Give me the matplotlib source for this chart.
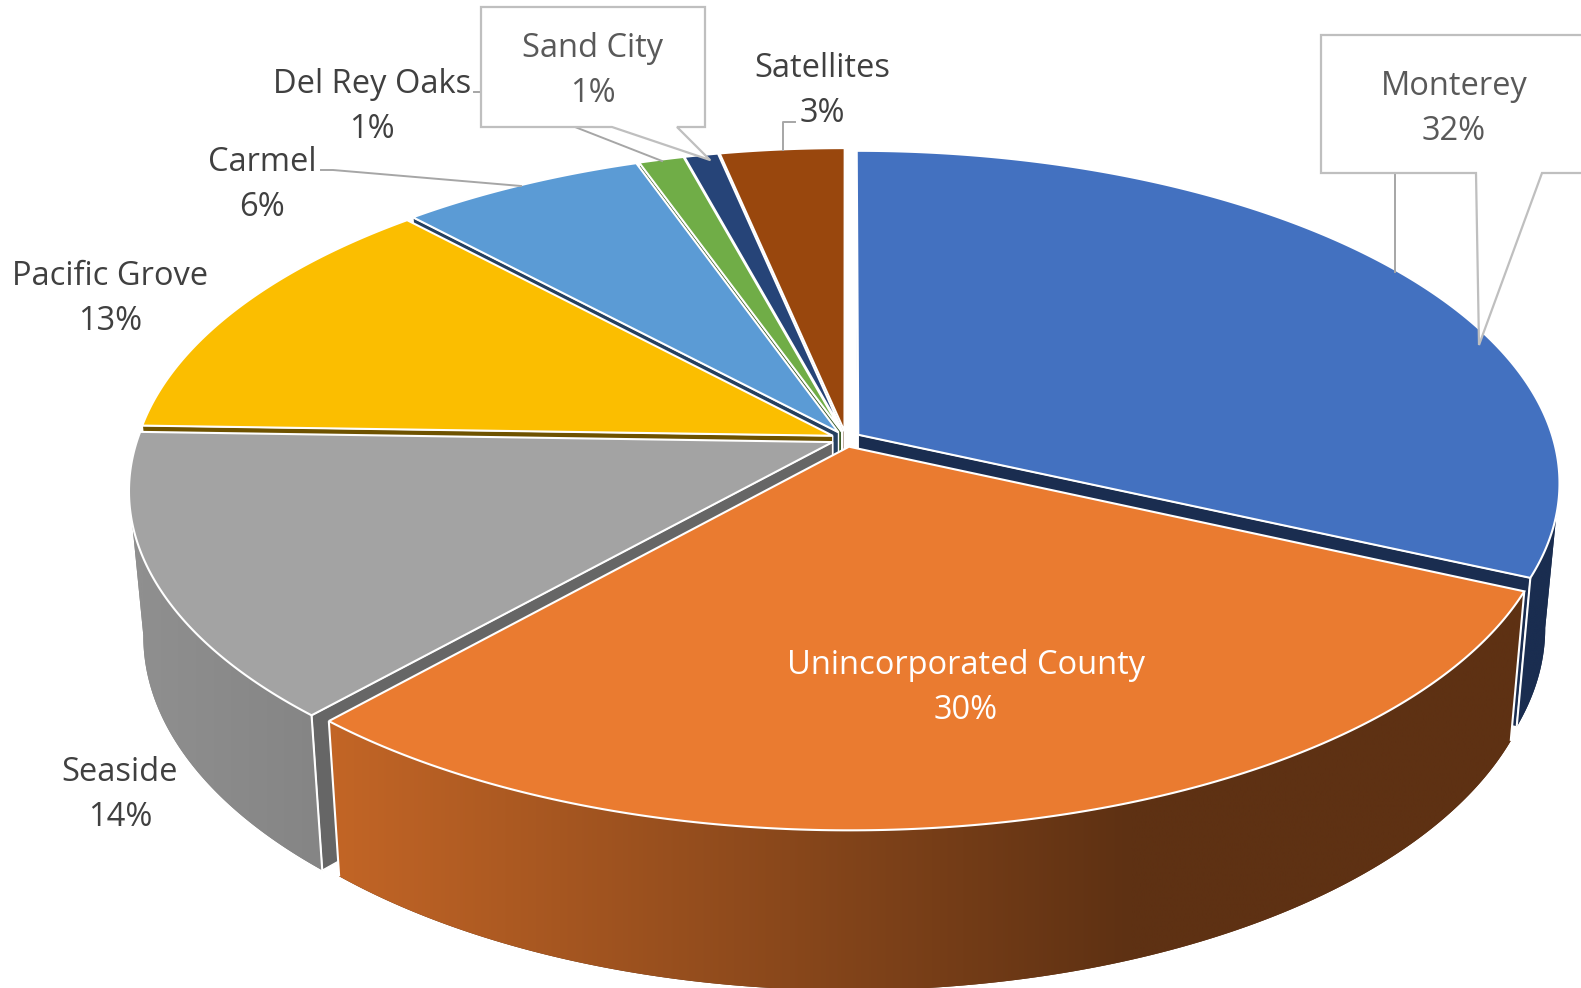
import matplotlib
matplotlib.use('Agg')
import matplotlib.pyplot as plt
from matplotlib.patches import Polygon
import numpy as np

# values (percent)
names = ['Monterey', 'Unincorporated County', 'Seaside', 'Pacific Grove',
         'Carmel', 'Del Rey Oaks', 'Sand City', 'Satellites']
values = [31.8, 29.8, 13.9, 12.6, 6.5, 1.2, 0.9, 3.3]

top_colors = ['#4371C0', '#EA7B30', '#A3A3A3', '#FBBE00',
              '#5B9BD5', '#70AD47', '#264478', '#99470D']
cut_colors = ['#1A2D50', '#5E3113', '#666666', '#6E5200',
              '#25405F', '#3C5C26', '#14243F', '#5E3113']

# wall shading: screen x range, left colour, right colour
wall_shade = {0: (1500, 1560, '#1A2D50', '#1A2D50'),
              1: (337, 1130, '#C26526', '#5E3113'),
              2: (143, 319, '#8F8F8F', '#858585')}
draw_order = [7, 6, 5, 4, 3, 0, 2, 1]

# label centres in pixels
label_pos = [(1454, 109), (966, 688), (120, 795), (110, 299),
             (262, 185), (372, 107), (593, 71), (822, 91)]
label_colors = ['#595959', 'white', '#404040', '#404040',
                '#404040', '#404040', '#595959', '#404040']

# pie projection
x0, y0 = 846, 439
a, b = 695, 326
k = 0.144
depth = 143
shrink = 0.02
explode = 0.021
explode_y = 0.024


def project(X, Y, z):
    s = 1 / (1 - k * Y)
    f = 1 - shrink * z
    return np.column_stack([x0 + a * X * s * f, y0 + b * Y * s * f + depth * s * z])


fig = plt.figure(figsize=(15.81, 9.88), dpi=100)
ax = fig.add_axes([0, 0, 1, 1])

edges = np.concatenate([[0], np.cumsum(values)]) / sum(values) * 2 * np.pi

for i in draw_order:
    t0, t1 = edges[i], edges[i + 1]
    mid = (t0 + t1) / 2
    ox, oy = explode * np.sin(mid), -explode_y * np.cos(mid)
    th = np.linspace(t0, t1, max(int(np.degrees(t1 - t0) * 2), 4))
    X = ox + np.sin(th)
    Y = oy - np.cos(th)
    rim_top = project(X, Y, 0)
    rim_bot = project(X, Y, 1)
    apex_top = project(np.array([ox]), np.array([oy]), 0)
    apex_bot = project(np.array([ox]), np.array([oy]), 1)

    # cut faces, only the ones turned to the viewer
    if rim_top[0, 0] < apex_top[0, 0]:
        ax.add_patch(Polygon([apex_top[0], rim_top[0], rim_bot[0], apex_bot[0]], closed=True,
                             facecolor=cut_colors[i], edgecolor='white', linewidth=1.0))
    if rim_top[-1, 0] > apex_top[0, 0]:
        ax.add_patch(Polygon([apex_top[0], rim_top[-1], rim_bot[-1], apex_bot[0]], closed=True,
                             facecolor=cut_colors[i], edgecolor='white', linewidth=1.0))

    # outer wall, only the part facing the viewer, shaded from left to right
    front = np.nonzero(np.diff(rim_top[:, 0]) < 0)[0]
    if len(front):
        j0, j1 = front[0], front[-1] + 1
        poly = np.vstack([rim_top[j0:j1 + 1], rim_bot[j0:j1 + 1][::-1]])
        x_lo, x_hi, c_lo, c_hi = wall_shade.get(i, (0, 1, cut_colors[i], cut_colors[i]))
        patch = Polygon(poly, closed=True, facecolor=c_hi, edgecolor='none')
        ax.add_patch(patch)
        left, right = min(x_lo, poly[:, 0].min()), max(x_hi, poly[:, 0].max())
        u = np.clip((np.linspace(left, right, 512) - x_lo) / (x_hi - x_lo), 0, 1)[None, :, None]
        grad = (1 - u) * np.array(matplotlib.colors.to_rgb(c_lo)) + u * np.array(matplotlib.colors.to_rgb(c_hi))
        im = ax.imshow(grad, extent=(left, right, poly[:, 1].max(), poly[:, 1].min()),
                       aspect='auto', interpolation='bilinear', zorder=1)
        im.set_clip_path(patch)
        for j in (j0, j1):
            if j in (0, len(th) - 1):
                ax.add_patch(Polygon([rim_top[j], rim_bot[j]], closed=False, fill=False,
                                     edgecolor='white', linewidth=1.5))

    # top face
    ax.add_patch(Polygon(np.vstack([apex_top, rim_top]), closed=True,
                         facecolor=top_colors[i], edgecolor='white', linewidth=1.5))

ax.set_xlim(0, 1581)
ax.set_ylim(988, 0)
ax.axis('off')

# leader lines and callouts
line_col = '#BFBFBF'
ax.plot([1395, 1395], [173, 272], color='#A6A6A6', lw=1.4)
ax.plot([575, 662], [127, 161], color='#A6A6A6', lw=1.4)
ax.plot([474, 481], [92, 92], color='#A6A6A6', lw=1.4)
ax.plot([321, 333, 521], [170, 170, 186], color='#A6A6A6', lw=1.4)
ax.plot([795, 783, 783], [122, 122, 150], color='#A6A6A6', lw=1.4)
ax.plot([667, 710], [127, 160], color='#A6A6A6', lw=1.2)
ax.add_patch(Polygon([(1321, 35), (1620, 35), (1620, 173), (1542, 173), (1479, 345),
                      (1476, 173), (1321, 173)], closed=True,
                     facecolor='white', edgecolor=line_col, linewidth=1.6, zorder=5))
ax.add_patch(Polygon([(481, 7), (705, 7), (705, 127), (677, 127), (710, 160),
                      (612, 127), (481, 127)], closed=True,
                     facecolor='white', edgecolor=line_col, linewidth=1.6, zorder=5))

for name, v, (lx, ly), col in zip(names, values, label_pos, label_colors):
    ax.text(lx, ly, '%s\n%d%%' % (name, round(v)), ha='center', va='center',
            color=col, fontsize=23.5, family='Open Sans', linespacing=1.46, zorder=6)

plt.savefig('out.png', dpi=100)
